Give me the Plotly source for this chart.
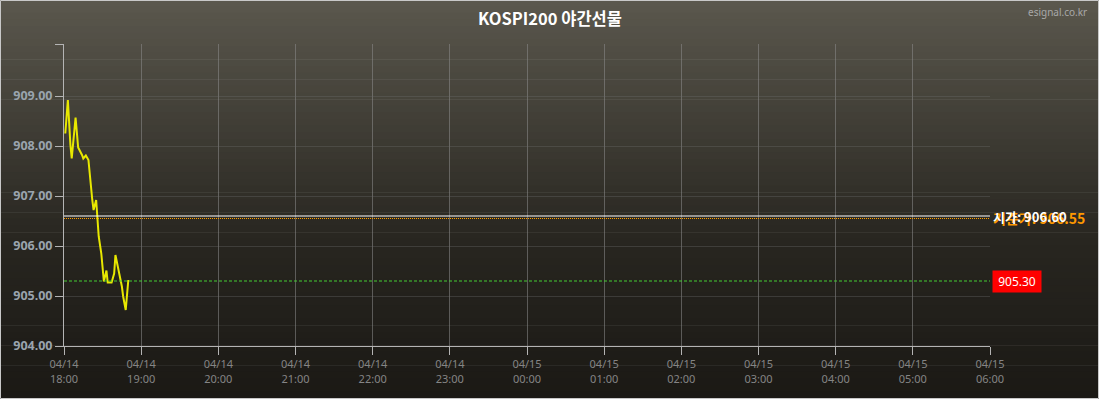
import plotly.graph_objects as go
from datetime import datetime, timedelta

# ---- data ----
base_time = "2025-04-14 18:00"
minutes = [1, 3, 5, 6, 9, 11, 14, 15, 17, 19, 22, 23, 25, 27, 29, 31, 33, 34, 37, 39, 40, 42, 45, 46, 48, 50]
prices = [908.25, 908.92, 908.02, 907.75, 908.57, 907.97, 907.82, 907.75, 907.81, 907.72,
          906.92, 906.72, 906.92, 906.19, 905.85, 905.29, 905.51, 905.27, 905.27, 905.45,
          905.82, 905.59, 905.19, 904.99, 904.72, 905.32]
open_price = 906.60
ref_price = 906.55
last_price = 905.30
y_ticks = [904, 905, 906, 907, 908, 909]
hours = list(range(13))

t0 = datetime.strptime(base_time, "%Y-%m-%d %H:%M")
times = [t0 + timedelta(minutes=m) for m in minutes]
xt = [t0 + timedelta(hours=h) for h in hours]
xtext = [f"{d:%m/%d}<br>{d:%H:%M}" for d in xt]
x_end = xt[-1]

W, H = 1099, 399
ml, mr, mt, mb = 64, 109, 44, 53
y_top = 904 + (H - mt - mb) / 50.0

fig = go.Figure()
fig.add_trace(go.Scatter(x=times, y=prices, mode="lines",
                         line=dict(color="#e8e800", width=2), hoverinfo="skip"))

shapes = []
pw = W - ml - mr
ph = H - mt - mb
x0p = -ml / pw
x1p = 1 + mr / pw
nb = 60
top_c = (90, 87, 77)
mid_c = (40, 38, 32)
bot_c = (27, 25, 21)
for i in range(nb):
    f = i / (nb - 1)
    if f < 0.6:
        g = f / 0.6
        c = [round(top_c[k] + (mid_c[k] - top_c[k]) * g) for k in range(3)]
    else:
        g = (f - 0.6) / 0.4
        c = [round(mid_c[k] + (bot_c[k] - mid_c[k]) * g) for k in range(3)]
    ya = 1 + mt / ph - (H / ph) * i / nb
    yb = 1 + mt / ph - (H / ph) * (i + 1) / nb
    shapes.append(dict(type="rect", xref="paper", yref="paper", x0=x0p, x1=x1p,
                       y0=yb, y1=ya + 0.002, fillcolor=f"rgb({c[0]},{c[1]},{c[2]})",
                       line=dict(width=0), layer="below"))
shapes.append(dict(type="rect", xref="paper", yref="paper", x0=x0p + 0.5 / pw, x1=x1p - 0.5 / pw,
                   y0=-mb / ph + 0.5 / ph, y1=1 + mt / ph - 0.5 / ph,
                   line=dict(color="#c8c8c8", width=1), layer="above"))
shapes.append(dict(type="line", xref="paper", x0=0, x1=1, yref="y", y0=ref_price, y1=ref_price,
                   line=dict(color="#ffa000", width=1, dash="1px,1px")))
shapes.append(dict(type="line", xref="paper", x0=0, x1=1, yref="y", y0=open_price, y1=open_price,
                   line=dict(color="#ffffff", width=1)))
shapes.append(dict(type="line", xref="paper", x0=0, x1=1, yref="y", y0=last_price, y1=last_price,
                   line=dict(color="#44cc33", width=1, dash="3px,2px")))

font_main = "Noto Sans, Noto Sans CJK KR, sans-serif"
annotations = [
    dict(text="<b>KOSPI200 야간선물</b>", xref="paper", yref="paper", x=(W / 2 - ml) / pw,
         y=1 + (mt - 18) / ph, xanchor="center", yanchor="middle", showarrow=False,
         font=dict(family="Noto Sans CJK KR, sans-serif", size=16.5, color="#ffffff")),
    dict(text="esignal.co.kr", xref="paper", yref="paper", x=1 + (mr - 10) / pw,
         y=1 + (mt - 12) / ph, xanchor="right", yanchor="middle", showarrow=False,
         font=dict(family=font_main, size=10, color="#a8a8a8")),
    dict(text=f"<b>기준가: {ref_price:.2f}</b>", xref="paper", yref="y", x=1 + 1 / pw, y=ref_price,
         xanchor="left", yanchor="middle", yshift=1, showarrow=False,
         font=dict(family="Noto Sans CJK KR, sans-serif", size=14, color="#ff9900")),
    dict(text=f"<b>시가: {open_price:.2f}</b>", xref="paper", yref="y", x=1 + 1 / pw, y=open_price,
         xanchor="left", yanchor="middle", showarrow=False,
         font=dict(family="Noto Sans CJK KR, sans-serif", size=13, color="#ffffff")),
    dict(text=f"{last_price:.2f}", xref="paper", yref="y", x=1 + 2 / pw, y=last_price,
         xanchor="left", yanchor="middle", showarrow=False, bgcolor="#ff0000",
         borderpad=2, width=44,
         font=dict(family=font_main, size=12, color="#ffffff")),
]

fig.update_layout(
    width=W, height=H,
    margin=dict(l=ml, r=mr, t=mt, b=mb),
    paper_bgcolor="rgba(0,0,0,0)", plot_bgcolor="rgba(0,0,0,0)",
    showlegend=False,
    shapes=shapes, annotations=annotations,
    xaxis=dict(range=[t0, x_end], tickvals=xt, ticktext=xtext, showgrid=True,
               gridcolor="rgba(140,140,140,0.55)", gridwidth=1,
               showline=True, linecolor="#b4b4b4", linewidth=1,
               ticks="outside", ticklen=8, tickcolor="#b4b4b4",
               tickfont=dict(family=font_main, size=11, color="#858585"),
               zeroline=False, fixedrange=True),
    yaxis=dict(range=[904, y_top], tickvals=y_ticks + [y_top],
               ticktext=[f"<b>{v:.2f}</b>" for v in y_ticks] + [""],
               showgrid=True, gridcolor="rgba(110,110,110,0.35)", gridwidth=1,
               showline=True, linecolor="#b4b4b4", linewidth=1,
               ticks="outside", ticklen=8, tickcolor="#b4b4b4",
               tickfont=dict(family=font_main, size=12.5, color="#9aa4ae"),
               zeroline=False, fixedrange=True),
)

fig.write_html("out.html")
